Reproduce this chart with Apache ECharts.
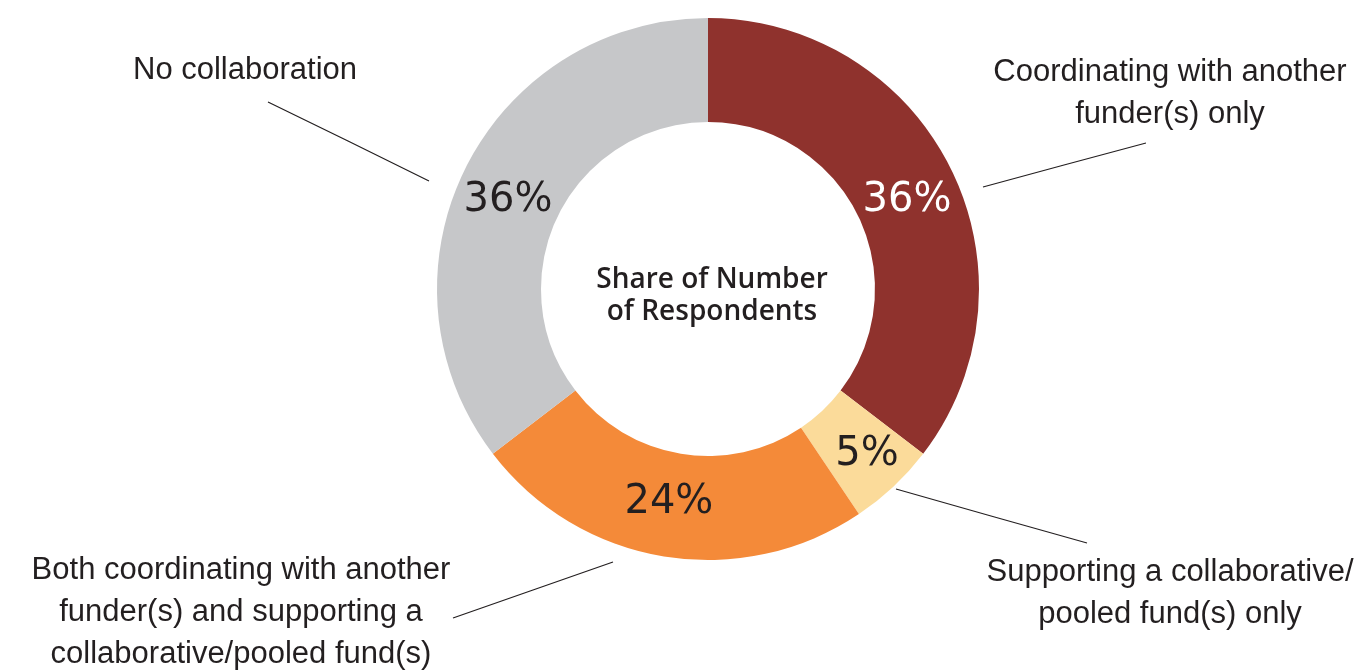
<!DOCTYPE html>
<html>
<head>
<meta charset="utf-8">
<script src="https://cdn.jsdelivr.net/npm/echarts@6/dist/echarts.min.js"></script>
<style>
  html, body { margin: 0; padding: 0; background: #ffffff; }
  #chart { width: 1359px; height: 670px; }
</style>
</head>
<body>
<div id="chart"></div>
<script>
// categories, clockwise from 12 o'clock
var categories = [
  'Coordinating with another\nfunder(s) only',
  'Supporting a collaborative/\npooled fund(s) only',
  'Both coordinating with another\nfunder(s) and supporting a\ncollaborative/pooled fund(s)',
  'No collaboration'
];
var shares = [35.4, 5.2, 24.0, 35.4];
var pctLabels = ['36%', '5%', '24%', '36%'];
var colors = ['#8f322d', '#fbdb9a', '#f48a39', '#c6c7c9'];
var pctColors = ['#ffffff', '#231f20', '#231f20', '#231f20'];

var cx = 708, cy = 289;

// nudges for the percentage labels (they are not exactly at mid-ring)
var pctNudge = [[0, 10], [7, 4], [-3, -5], [-1, 10]];

// where the outer captions sit and their leader lines
var captionPos = [
  { x: 1170, y: 51, line: [[983, 187], [1064, 165], [1146, 143]] },
  { x: 1170, y: 551, line: [[896, 489], [991, 516], [1087, 543]] },
  { x: 241, y: 549, line: [[613, 562], [533, 590], [453, 618]] },
  { x: 245, y: 49, line: [[429, 181], [348, 141], [268, 102]] }
];

var chart = echarts.init(document.getElementById('chart'), null, { renderer: 'canvas' });

var ringData = shares.map(function (v, i) {
  return {
    value: v,
    name: categories[i],
    itemStyle: { color: colors[i] },
    label: { formatter: pctLabels[i], color: pctColors[i] }
  };
});

var captionData = shares.map(function (v, i) {
  return { value: v, name: categories[i] };
});

var option = {
  backgroundColor: '#ffffff',
  animation: false,
  graphic: [{
    type: 'text',
    x: cx + 4,
    y: cy + 7,
    style: {
      text: 'Share of Number\nof Respondents',
      fontFamily: 'Open Sans',
      fontWeight: 600,
      fontSize: 28,
      lineHeight: 32,
      fill: '#231f20',
      align: 'center',
      verticalAlign: 'middle'
    }
  }],
  series: [
    {
      // the donut with its percentages
      type: 'pie',
      center: [cx, cy],
      radius: [167, 271],
      startAngle: 90,
      clockwise: true,
      silent: true,
      itemStyle: { borderWidth: 0 },
      label: {
        show: true,
        position: 'inside',
        fontFamily: 'DejaVu Sans',
        fontSize: 40,
        fontWeight: 'normal'
      },
      labelLine: { show: false },
      labelLayout: function (p) {
        var n = pctNudge[p.dataIndex];
        return { dx: n[0], dy: n[1] };
      },
      data: ringData
    },
    {
      // invisible copy, only for the outer captions + leader lines
      type: 'pie',
      center: [cx, cy],
      radius: [0, 2],
      startAngle: 90,
      silent: true,
      itemStyle: { color: 'rgba(0,0,0,0)' },
      label: {
        show: true,
        position: 'outside',
        fontFamily: 'Liberation Sans',
        fontSize: 31,
        lineHeight: 42,
        color: '#231f20',
        align: 'center'
      },
      labelLine: {
        show: true,
        length: 10,
        length2: 10,
        lineStyle: { color: '#231f20', width: 1.2 }
      },
      labelLayout: function (p) {
        var c = captionPos[p.dataIndex];
        return {
          x: c.x,
          y: c.y,
          align: 'center',
          verticalAlign: 'top',
          labelLinePoints: c.line
        };
      },
      data: captionData
    }
  ]
};

chart.setOption(option);
</script>
</body>
</html>
